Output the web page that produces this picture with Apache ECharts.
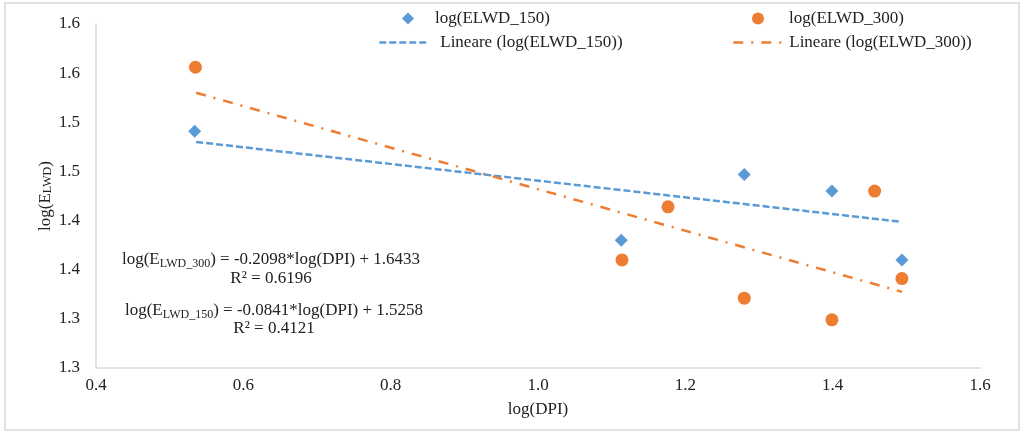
<!DOCTYPE html>
<html><head><meta charset="utf-8">
<script src="https://cdn.jsdelivr.net/npm/echarts@6/dist/echarts.min.js"></script>
<style>html,body{margin:0;padding:0;background:#fff}#c{width:1023px;height:434px}</style>
</head><body><div id="c"></div>
<script>
// ---- data ----
const xTickLabels = ['0.4', '0.6', '0.8', '1.0', '1.2', '1.4', '1.6'];
const yTickLabels = ['1.3', '1.3', '1.4', '1.4', '1.5', '1.5', '1.6', '1.6'];

const dpi150 = [0.534, 1.113, 1.280, 1.399, 1.494];
const e150   = [1.541, 1.430, 1.497, 1.480, 1.410];

const dpi300 = [0.535, 1.114, 1.1765, 1.280, 1.399, 1.457, 1.494];
const e300   = [1.606, 1.410, 1.464, 1.371, 1.349, 1.480, 1.391];

const trendX150 = [0.536, 1.490];
const trendY150 = [1.530, 1.449];
const trendX300 = [0.536, 1.494];
const trendY300 = [1.580, 1.3775];

const seriesNames = ['log(ELWD_150)', 'log(ELWD_300)', 'Lineare (log(ELWD_150))', 'Lineare (log(ELWD_300))'];
const eqText = [
  'log(E{s|LWD_300}) = -0.2098*log(DPI) + 1.6433',
  'R² = 0.6196',
  'log(E{s|LWD_150}) = -0.0841*log(DPI) + 1.5258',
  'R² = 0.4121'
];

// ---- chart ----
const FONT = '"Liberation Serif", "Times New Roman", serif';
const TXT = '#222';
const BLUE = '#5B9BD5';
const ORANGE = '#ED7D31';
const zip = (a, b) => a.map((v, i) => [v, b[i]]);
const richSub = { s: { fontSize: 12, fontFamily: FONT, verticalAlign: 'bottom', lineHeight: 12, fill: TXT, color: TXT } };

const chart = echarts.init(document.getElementById('c'), null, { renderer: 'canvas' });

function legendItem(item, left, top, w, h, padLeft) {
  return {
    data: [item], left: left, top: top, itemWidth: w, itemHeight: h,
    orient: 'horizontal', padding: 0, selectedMode: false,
    textStyle: { fontFamily: FONT, fontSize: 17, color: TXT, padding: [0, 0, 0, padLeft || 0] }
  };
}

function eq(text, x, y) {
  return {
    type: 'text', x: x, y: y, silent: true,
    style: {
      text: text, align: 'center', verticalAlign: 'middle',
      fontFamily: FONT, fontSize: 17, fill: TXT, lineHeight: 20,
      rich: richSub
    }
  };
}

chart.setOption({
  animation: false,
  backgroundColor: '#fff',
  grid: { left: 96, right: 43, top: 24, bottom: 66, containLabel: false },
  legend: [
    legendItem({ name: seriesNames[0], icon: 'diamond' }, 402, 10, 12, 12, 16),
    legendItem({ name: seriesNames[2], itemStyle: { opacity: 0 }, lineStyle: { width: 2.5 } }, 378, 34, 50, 14, 6),
    legendItem({ name: seriesNames[1], icon: 'circle' }, 752, 10, 12, 12, 20),
    legendItem({ name: seriesNames[3], itemStyle: { opacity: 0 }, lineStyle: { width: 2.5 } }, 732, 34, 50, 14, 1)
  ],
  xAxis: {
    type: 'value', min: 0.4, max: 1.6, interval: 0.2,
    axisLine: { show: true, lineStyle: { color: '#d9d9d9', width: 1.5 } },
    axisTick: { show: false },
    splitLine: { show: false },
    axisLabel: {
      margin: 9, fontFamily: FONT, fontSize: 17, color: TXT,
      formatter: v => xTickLabels[Math.round((v - 0.4) / 0.2)]
    },
    name: 'log(DPI)', nameLocation: 'middle', nameGap: 33, nameMoveOverlap: false,
    nameTextStyle: { fontFamily: FONT, fontSize: 17, color: TXT }
  },
  yAxis: {
    type: 'value', min: 1.3, max: 1.65, interval: 0.05,
    axisLine: { show: true, lineStyle: { color: '#d9d9d9', width: 1.5 } },
    axisTick: { show: false },
    splitLine: { show: false },
    axisLabel: {
      margin: 16, fontFamily: FONT, fontSize: 17, color: TXT,
      formatter: v => yTickLabels[Math.round((v - 1.3) / 0.05)]
    },
    name: 'log(E{s|LWD})', nameLocation: 'middle', nameGap: 42, nameMoveOverlap: false,
    nameTextStyle: { fontFamily: FONT, fontSize: 17, color: TXT, rich: richSub }
  },
  series: [
    {
      name: seriesNames[2], type: 'line', data: zip(trendX150, trendY150),
      symbol: 'none', lineStyle: { color: BLUE, width: 2.5, type: [7, 3] },
      itemStyle: { color: BLUE }, z: 2
    },
    {
      name: seriesNames[3], type: 'line', data: zip(trendX300, trendY300),
      symbol: 'none', lineStyle: { color: ORANGE, width: 2.5, type: [10, 8, 2, 8] },
      itemStyle: { color: ORANGE }, z: 2
    },
    {
      name: seriesNames[0], type: 'scatter', data: zip(dpi150, e150),
      symbol: 'diamond', symbolSize: 13, itemStyle: { color: BLUE, opacity: 1 }, z: 3
    },
    {
      name: seriesNames[1], type: 'scatter', data: zip(dpi300, e300),
      symbol: 'circle', symbolSize: 13, itemStyle: { color: ORANGE, opacity: 1 }, z: 3
    }
  ],
  graphic: [
    { type: 'rect', shape: { x: 5, y: 3, width: 1014, height: 427 }, silent: true, z: -1,
      style: { fill: 'none', stroke: '#d9d9d9', lineWidth: 1.5 } },
    eq(eqText[0], 271, 260),
    eq(eqText[1], 271, 279),
    eq(eqText[2], 274, 311),
    eq(eqText[3], 274, 329)
  ]
});
</script>
</body></html>
